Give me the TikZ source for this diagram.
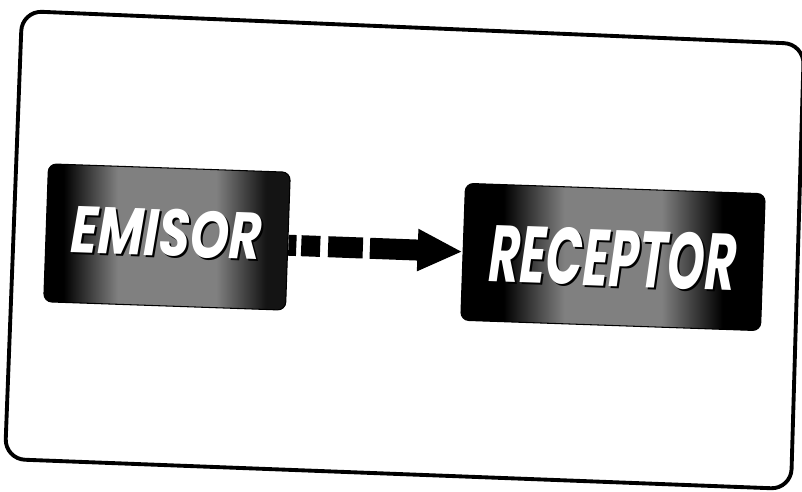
\documentclass[tikz,border=0pt]{standalone}
\usepackage{fontspec}
\newfontfamily\popfont{Poppins}
\usetikzlibrary{arrows.meta,calc,shadings}
\pgfdeclarehorizontalshading{emishade}{100bp}{color(0bp)=(black); color(29bp)=(black); color(40bp)=(black!50); color(60bp)=(black!50); color(70bp)=(black!92); color(100bp)=(black!92)}
\pgfdeclarehorizontalshading{recshade}{100bp}{color(0bp)=(black); color(32bp)=(black); color(42bp)=(black!50); color(58bp)=(black!50); color(68bp)=(black); color(100bp)=(black)}
\begin{document}
\begin{tikzpicture}[x=0.02cm,y=-0.02cm,
  framestyle/.style={line width=2.2pt, rounded corners=0.4cm},
  boxstyle/.style={rounded corners=0.16cm, inner sep=0pt, draw=black, line width=0.6pt},
  lbl/.style={text=white, inner sep=0pt},
  shadowlbl/.style={text=black, inner sep=0pt},
  flow/.style={line width=0.42cm,
    dash pattern=on 4.5pt off 2.8pt on 10.8pt off 4.5pt on 19.8pt off 4pt on 40pt,
    -{Triangle[length=0.9cm,width=0.78cm]}}]
\useasboundingbox (0,0) rectangle (802,492);
% outer frame
\draw[framestyle] (22,11) -- (804,44) -- (791,489) -- (5,459) -- cycle;
% boxes
\node[boxstyle, minimum width=4.84cm, minimum height=2.76cm, rotate=-2,
      shading=emishade] (emisor) at (167,237) {};
\node[boxstyle, minimum width=6.0cm, minimum height=2.74cm, rotate=-2,
      shading=recshade] (receptor) at (613,257) {};
% labels
\node[shadowlbl, rotate=-2] (emisorsh) at (169,235) {\resizebox{3.82cm}{0.94cm}{\popfont\bfseries\itshape EMISOR}};
\node[lbl, rotate=-2] (emisortxt) at (167,233) {\resizebox{3.82cm}{0.94cm}{\popfont\bfseries\itshape EMISOR}};
\node[shadowlbl, rotate=-2] (receptorsh) at (615,260) {\resizebox{4.94cm}{1.14cm}{\popfont\bfseries\itshape RECEPTOR}};
\node[lbl, rotate=-2] (receptortxt) at (613,258) {\resizebox{4.94cm}{1.14cm}{\popfont\bfseries\itshape RECEPTOR}};
% connector
\draw[flow] ($(emisor.east)+(0,4)$) -- (receptor.west);
\end{tikzpicture}
\end{document}
